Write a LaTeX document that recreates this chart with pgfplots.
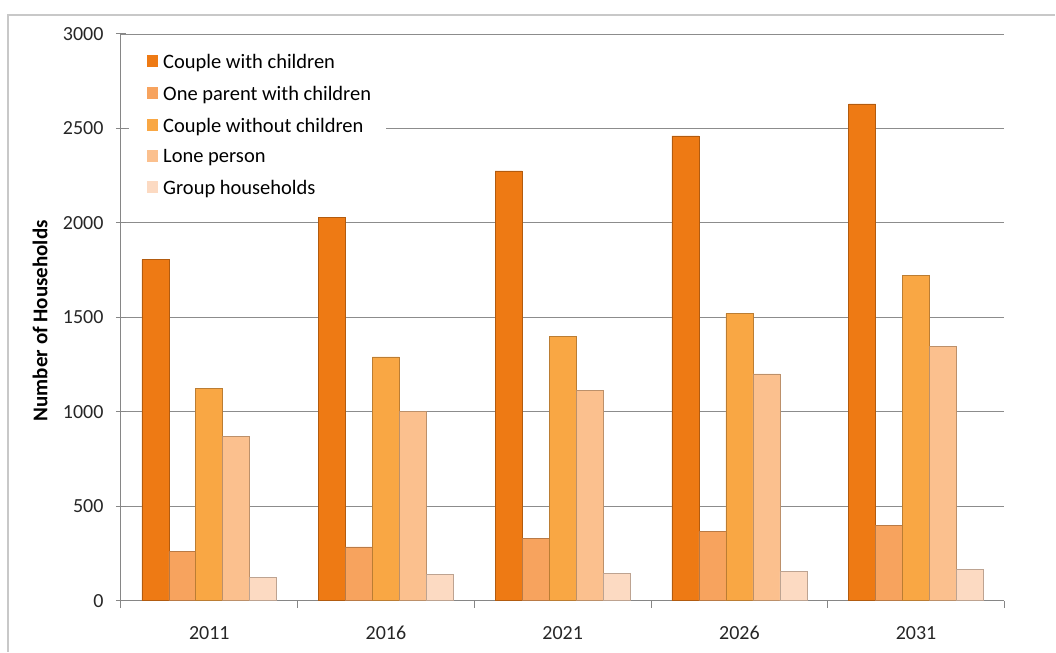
\documentclass[border=0pt]{standalone}
\usepackage{pgfplots}
\pgfplotsset{compat=1.18}
\usepackage{fontspec}
\setmainfont{Carlito}
\definecolor{c1}{HTML}{EE7A14}
\definecolor{c2}{HTML}{F7A35E}
\definecolor{c3}{HTML}{F9A744}
\definecolor{c4}{HTML}{FBC08E}
\definecolor{c5}{HTML}{FCDAC2}
\definecolor{gridc}{HTML}{8C8C8C}
\definecolor{axc}{HTML}{868686}
\definecolor{framec}{HTML}{C8C8C8}
\begin{document}
\begin{tikzpicture}
\begin{axis}[
  scale only axis, width=884bp, height=567bp,
  ybar=0pt, bar width=27bp,
  xmin=-0.5, xmax=4.5, ymin=0, ymax=3000,
  xtick={0,1,2,3,4},
  xticklabels={2011,2016,2021,2026,2031},
  minor xtick={-0.5,0.5,1.5,2.5,3.5,4.5},
  ytick={0,500,1000,1500,2000,2500,3000},
  axis x line*=bottom, axis y line*=left,
  axis line style={axc, line width=1bp, -},
  ymajorgrids, grid style={gridc, line width=0.9bp},
  major x tick style={draw=none},
  minor x tick style={axc, line width=1bp},
  minor tick length=7bp,
  xtick align=outside,
  ytick align=center, major tick length=10bp,
  y tick style={axc, line width=1bp},
  /pgf/number format/assume math mode=true,
  /pgf/number format/1000 sep={},
  tick label style={font=\fontsize{20bp}{22bp}\selectfont, text=black!85},
  yticklabel style={xshift=-9bp},
  xticklabel style={yshift=-12bp},
  ylabel={Number of Households},
  ylabel style={font=\fontsize{21bp}{23bp}\selectfont\bfseries, at={(axis description cs:-0.0916,0.494)}, anchor=center, rotate=0},
  legend style={at={(axis description cs:0.0092,0.987)}, anchor=north west, draw=none, fill=white,
    inner xsep=14bp, inner ysep=12bp,
    font=\fontsize{20.5bp}{22bp}\selectfont, row sep=14bp, legend cell align=left,
    nodes={inner sep=1bp}},
  legend image code/.code={\fill[#1,draw=none] (4bp,-5bp) rectangle (15bp,7bp); \path[draw=none,fill=none] (0bp,0bp) (19bp,0bp);},
]
\addplot[fill=c1, draw=c1!75!black, line width=0.6bp] coordinates {(0,1805) (1,2030) (2,2275) (3,2460) (4,2630)};
\addplot[fill=c2, draw=c2!75!black, line width=0.6bp] coordinates {(0,260) (1,285) (2,330) (3,365) (4,400)};
\addplot[fill=c3, draw=c3!75!black, line width=0.6bp] coordinates {(0,1125) (1,1290) (2,1400) (3,1520) (4,1720)};
\addplot[fill=c4, draw=c4!75!black, line width=0.6bp] coordinates {(0,870) (1,1000) (2,1115) (3,1200) (4,1345)};
\addplot[fill=c5, draw=c5!75!black, line width=0.6bp] coordinates {(0,125) (1,140) (2,145) (3,155) (4,165)};
\legend{Couple with children, One parent with children, Couple without children, Lone person, Group households}
\end{axis}
\pgfresetboundingbox
\path ([shift={(-121bp,-51bp)}]current axis.south west) rectangle ([shift={(51bp,34bp)}]current axis.north east);
\draw[framec, line width=1.2bp] ([shift={(-113bp,-51bp)}]current axis.south west) -- ([shift={(-113bp,19bp)}]current axis.north west) -- ([shift={(51bp,19bp)}]current axis.north east);
\end{tikzpicture}
\end{document}
